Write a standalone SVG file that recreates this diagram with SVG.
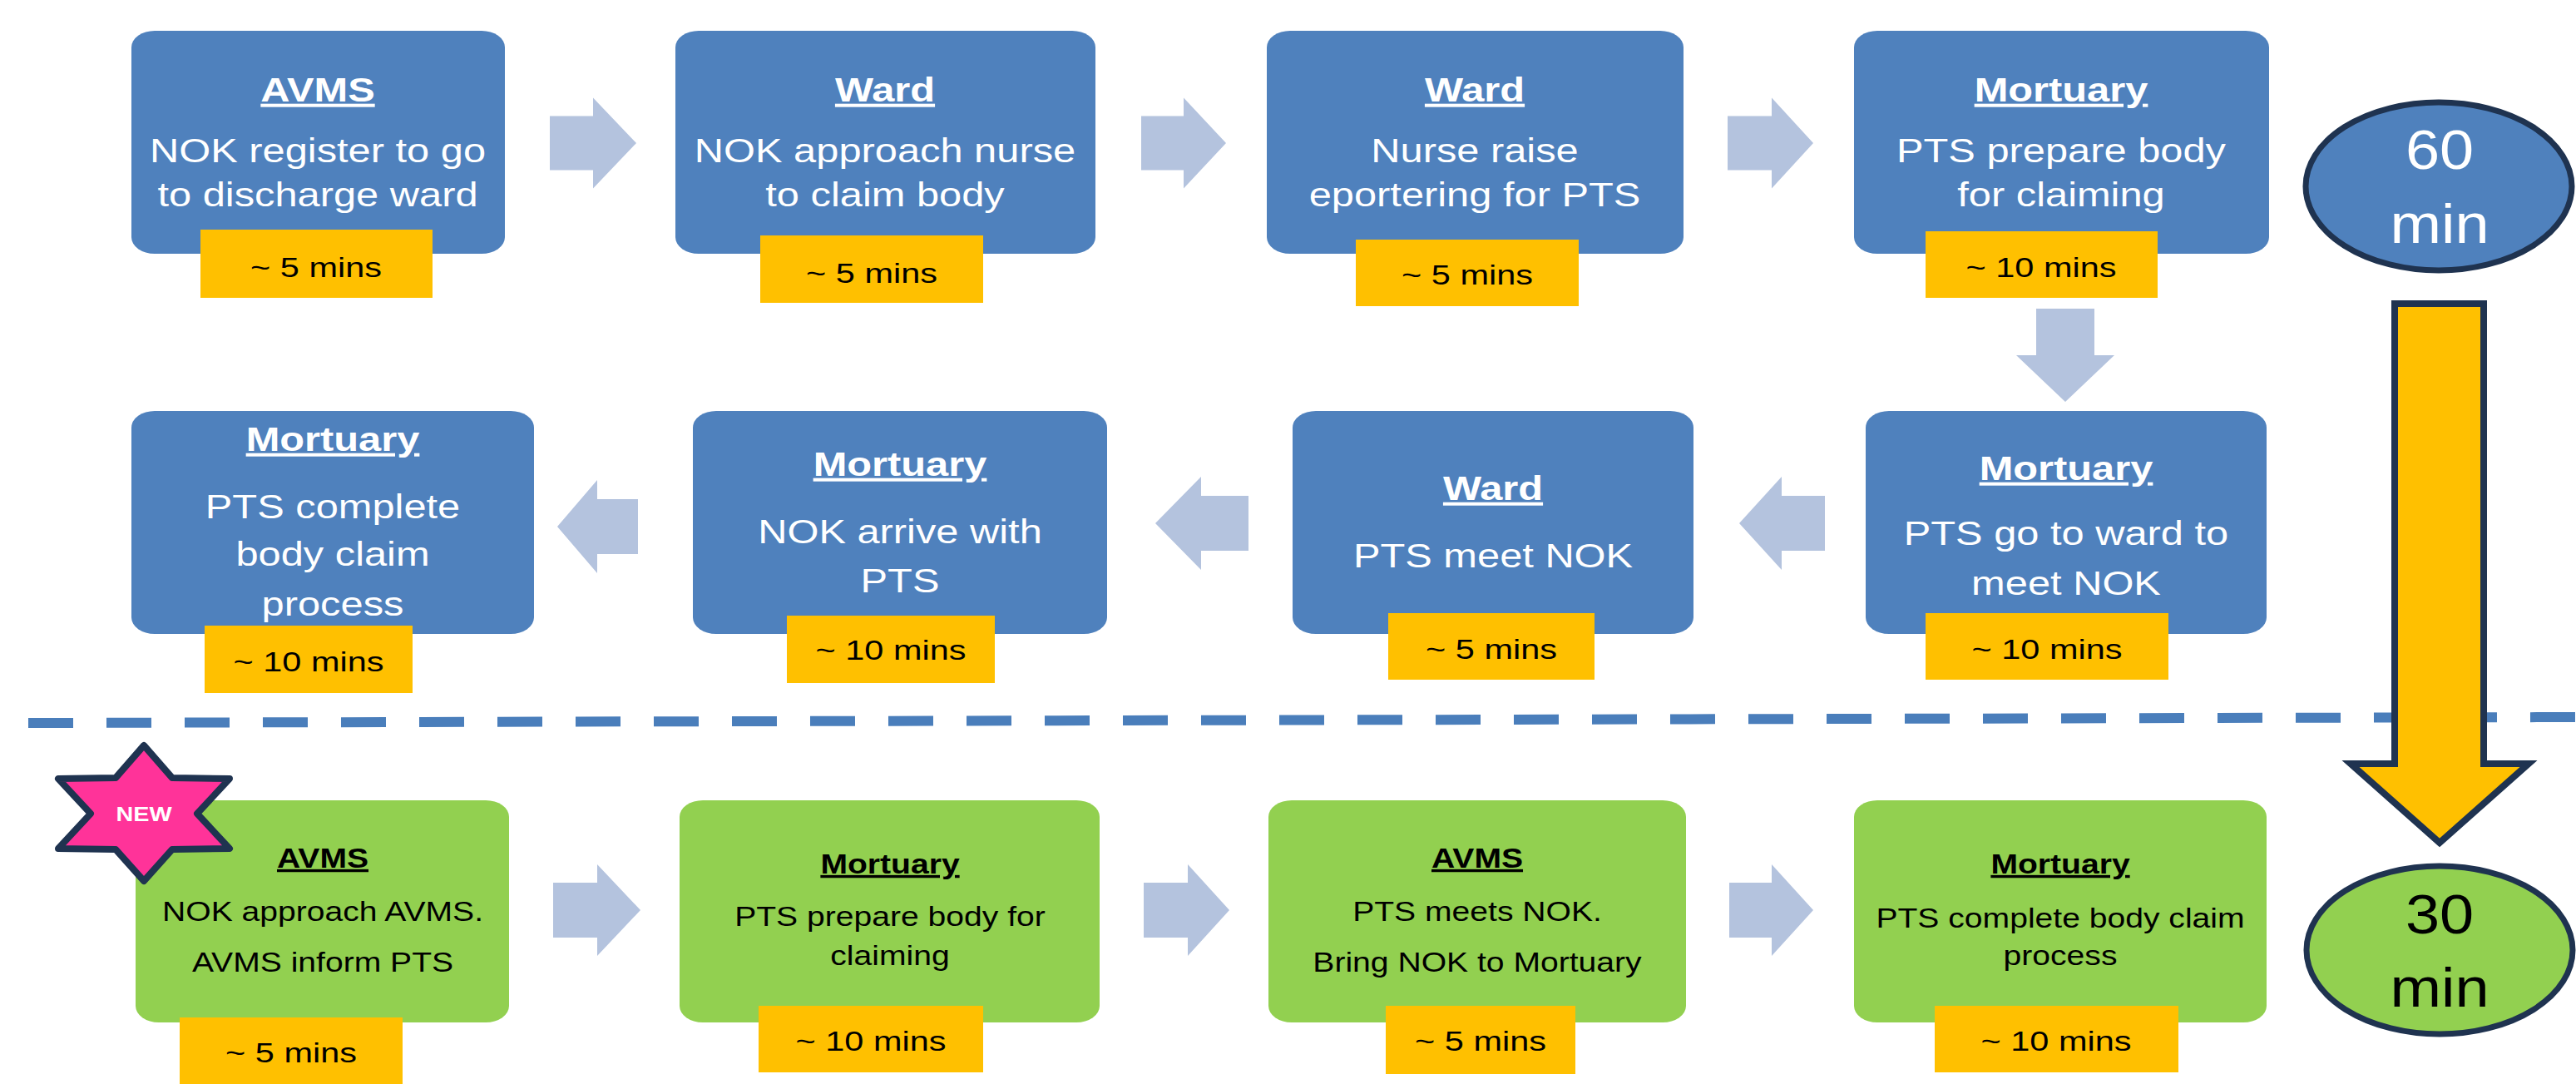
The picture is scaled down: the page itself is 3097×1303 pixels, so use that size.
<svg xmlns="http://www.w3.org/2000/svg" width="3097" height="1303" viewBox="0 0 3097 1303">
<style>
text{font-family:"Liberation Sans",Arial,sans-serif;text-anchor:middle}
.blue{fill:#4F81BD}
.green{fill:#92D050}
.lab{fill:#FFC000}
.arw{fill:#B4C3DE}
.ttl{font-weight:bold;font-size:40px;text-decoration:underline}
.bd{font-size:40px}
.ttl3{font-weight:bold;font-size:34px;text-decoration:underline}
.bd3{font-size:34px}
.lt{font-size:34px;fill:#000}
.w{fill:#fff}
.k{fill:#000}
.big{font-size:66px}
.ring{stroke:#1F3350;stroke-width:7}
</style>
<rect width="3097" height="1303" fill="#fff"/>
<line x1="34" y1="869" x2="3097" y2="862" stroke="#4A7EBB" stroke-width="12" stroke-dasharray="54 40"/>
<g id="connectors">
<polygon class="arw" points="661,139.5 713,139.5 713,117.5 765,172 713,226.5 713,204.5 661,204.5"/>
<polygon class="arw" points="1372,139.5 1423,139.5 1423,117.5 1474,172 1423,226.5 1423,204.5 1372,204.5"/>
<polygon class="arw" points="2077,139.5 2130,139.5 2130,117.5 2180,172 2130,226.5 2130,204.5 2077,204.5"/>
<polygon class="arw" points="2448,371 2518,371 2518,427 2542,427 2483,483 2424,427 2448,427"/>
<polygon class="arw" points="767,600 718,600 718,577 670,633 718,689 718,666 767,666"/>
<polygon class="arw" points="1501,596 1444,596 1444,573 1389,629 1444,685 1444,662 1501,662"/>
<polygon class="arw" points="2194,596 2142,596 2142,573 2091,629 2142,685 2142,662 2194,662"/>
<polygon class="arw" points="665,1061 718,1061 718,1039 770,1094 718,1149 718,1127 665,1127"/>
<polygon class="arw" points="1375,1061 1428,1061 1428,1039 1478,1094 1428,1149 1428,1127 1375,1127"/>
<polygon class="arw" points="2079,1061 2130,1061 2130,1039 2180,1094 2130,1149 2130,1127 2079,1127"/>
<polygon id="bigarrow" points="2879,365 2986,365 2986,918 3040,918 2933,1013 2826,918 2879,918" fill="#FFC000" stroke="#1F3350" stroke-width="8"/>
</g>
<g id="n1">
<rect class="blue" x="158" y="37" width="449" height="268" rx="28" ry="20"/>
<g transform="translate(382 0) scale(1.22 1)"><text class="ttl w" y="122">AVMS</text><text class="bd w" y="195">NOK register to go</text><text class="bd w" y="248">to discharge ward</text></g>
<rect class="lab" x="241" y="276" width="279" height="82"/>
<text class="lt" transform="translate(380 333) scale(1.22 1)">~ 5 mins</text>
</g>
<g id="n2">
<rect class="blue" x="812" y="37" width="505" height="268" rx="28" ry="20"/>
<g transform="translate(1064 0) scale(1.22 1)"><text class="ttl w" y="122">Ward</text><text class="bd w" y="195">NOK approach nurse</text><text class="bd w" y="248">to claim body</text></g>
<rect class="lab" x="914" y="283" width="268" height="81"/>
<text class="lt" transform="translate(1048 340) scale(1.22 1)">~ 5 mins</text>
</g>
<g id="n3">
<rect class="blue" x="1523" y="37" width="501" height="268" rx="28" ry="20"/>
<g transform="translate(1773 0) scale(1.22 1)"><text class="ttl w" y="122">Ward</text><text class="bd w" y="195">Nurse raise</text><text class="bd w" y="248">eportering for PTS</text></g>
<rect class="lab" x="1630" y="288" width="268" height="80"/>
<text class="lt" transform="translate(1764 342) scale(1.22 1)">~ 5 mins</text>
</g>
<g id="n4">
<rect class="blue" x="2229" y="37" width="499" height="268" rx="28" ry="20"/>
<g transform="translate(2478 0) scale(1.22 1)"><text class="ttl w" y="122">Mortuary</text><text class="bd w" y="195">PTS prepare body</text><text class="bd w" y="248">for claiming</text></g>
<rect class="lab" x="2315" y="278" width="279" height="80"/>
<text class="lt" transform="translate(2454 333) scale(1.22 1)">~ 10 mins</text>
</g>
<g id="n5">
<rect class="blue" x="158" y="494" width="484" height="268" rx="28" ry="20"/>
<g transform="translate(400 0) scale(1.22 1)"><text class="ttl w" y="542">Mortuary</text><text class="bd w" y="623">PTS complete</text><text class="bd w" y="680">body claim</text><text class="bd w" y="740">process</text></g>
<rect class="lab" x="246" y="752" width="250" height="81"/>
<text class="lt" transform="translate(371 807) scale(1.22 1)">~ 10 mins</text>
</g>
<g id="n6">
<rect class="blue" x="833" y="494" width="498" height="268" rx="28" ry="20"/>
<g transform="translate(1082 0) scale(1.22 1)"><text class="ttl w" y="572">Mortuary</text><text class="bd w" y="653">NOK arrive with</text><text class="bd w" y="712">PTS</text></g>
<rect class="lab" x="946" y="740" width="250" height="81"/>
<text class="lt" transform="translate(1071 793) scale(1.22 1)">~ 10 mins</text>
</g>
<g id="n7">
<rect class="blue" x="1554" y="494" width="482" height="268" rx="28" ry="20"/>
<g transform="translate(1795 0) scale(1.22 1)"><text class="ttl w" y="601">Ward</text><text class="bd w" y="682">PTS meet NOK</text></g>
<rect class="lab" x="1669" y="737" width="248" height="80"/>
<text class="lt" transform="translate(1793 792) scale(1.22 1)">~ 5 mins</text>
</g>
<g id="n8">
<rect class="blue" x="2243" y="494" width="482" height="268" rx="28" ry="20"/>
<g transform="translate(2484 0) scale(1.22 1)"><text class="ttl w" y="577">Mortuary</text><text class="bd w" y="655">PTS go to ward to</text><text class="bd w" y="715">meet NOK</text></g>
<rect class="lab" x="2315" y="737" width="292" height="80"/>
<text class="lt" transform="translate(2461 792) scale(1.22 1)">~ 10 mins</text>
</g>
<g id="n9">
<rect class="green" x="163" y="962" width="449" height="267" rx="28" ry="20"/>
<g transform="translate(388 0) scale(1.15 1)"><text class="ttl3 k" y="1043">AVMS</text><text class="bd3 k" y="1107">NOK approach AVMS.</text><text class="bd3 k" y="1168">AVMS inform PTS</text></g>
<rect class="lab" x="216" y="1223" width="268" height="80"/>
<text class="lt" transform="translate(350 1277) scale(1.22 1)">~ 5 mins</text>
</g>
<g id="star">
<polygon points="173,896 207,935 276,936 237,978 276,1020 207,1021 173,1059 139,1021 70,1020 109,978 70,936 139,935" fill="#FF3399" stroke="#1F3350" stroke-width="8" stroke-linejoin="round"/>
<text class="w" transform="translate(173 987) scale(1.2 1)" style="font-weight:bold;font-size:24px">NEW</text>
</g>
<g id="n10">
<rect class="green" x="817" y="962" width="505" height="267" rx="28" ry="20"/>
<g transform="translate(1070 0) scale(1.15 1)"><text class="ttl3 k" y="1050">Mortuary</text><text class="bd3 k" y="1113">PTS prepare body for</text><text class="bd3 k" y="1160">claiming</text></g>
<rect class="lab" x="912" y="1209" width="270" height="80"/>
<text class="lt" transform="translate(1047 1263) scale(1.22 1)">~ 10 mins</text>
</g>
<g id="n11">
<rect class="green" x="1525" y="962" width="502" height="267" rx="28" ry="20"/>
<g transform="translate(1776 0) scale(1.15 1)"><text class="ttl3 k" y="1043">AVMS</text><text class="bd3 k" y="1107">PTS meets NOK.</text><text class="bd3 k" y="1168">Bring NOK to Mortuary</text></g>
<rect class="lab" x="1666" y="1209" width="228" height="82"/>
<text class="lt" transform="translate(1780 1263) scale(1.22 1)">~ 5 mins</text>
</g>
<g id="n12">
<rect class="green" x="2229" y="962" width="496" height="267" rx="28" ry="20"/>
<g transform="translate(2477 0) scale(1.15 1)"><text class="ttl3 k" y="1050">Mortuary</text><text class="bd3 k" y="1115">PTS complete body claim</text><text class="bd3 k" y="1160">process</text></g>
<rect class="lab" x="2326" y="1209" width="293" height="80"/>
<text class="lt" transform="translate(2472 1263) scale(1.22 1)">~ 10 mins</text>
</g>
<g id="t60">
<ellipse class="blue ring" cx="2932" cy="224" rx="160" ry="101"/>
<g transform="translate(2933 0) scale(1.12 1)"><text class="big w" y="203">60</text><text class="big w" y="292">min</text></g>
</g>
<g id="t30">
<ellipse class="green ring" cx="2933" cy="1142" rx="160" ry="101"/>
<g transform="translate(2933 0) scale(1.12 1)"><text class="big k" y="1122">30</text><text class="big k" y="1210">min</text></g>
</g>
</svg>
